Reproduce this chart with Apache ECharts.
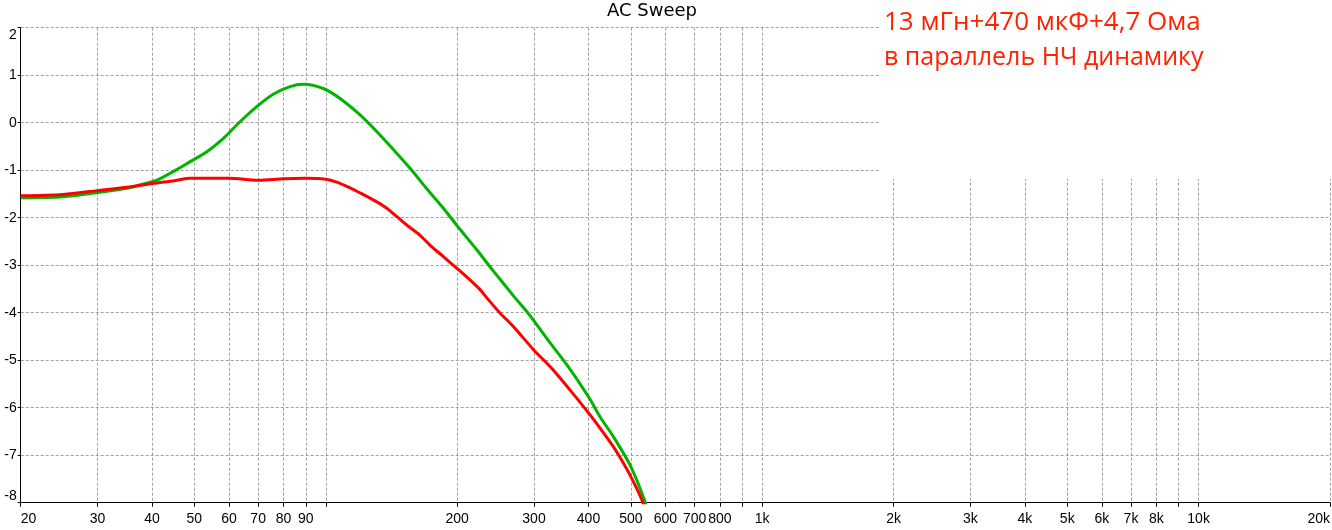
<!DOCTYPE html>
<html>
<head>
<meta charset="utf-8">
<script src="https://cdn.jsdelivr.net/npm/echarts@6/dist/echarts.min.js"></script>
<style>
    html, body { margin: 0; padding: 0; background: #fff; }
    #echarts-main { width: 1332px; height: 530px; }
</style>
</head>
<body>
<div id="echarts-main"></div>
<script>
    // АЧХ: зелёная и красная кривые (частота, Гц -> уровень, дБ)
    const greenFreq = [20, 25, 30, 35, 37.5, 41, 44.7, 48.9, 53.4, 58.3, 63.6, 69.5, 75.8, 82.8, 88.8, 98.7, 107.8, 120, 131, 143, 156, 170, 186, 200, 222, 242, 269, 289, 300, 327, 357, 400, 425, 456, 500, 539, 560]
    const greenDb = [-1.58, -1.56, -1.47, -1.38, -1.31, -1.21, -1.03, -0.82, -0.61, -0.33, 0.02, 0.34, 0.60, 0.76, 0.81, 0.72, 0.51, 0.16, -0.19, -0.57, -0.96, -1.38, -1.80, -2.17, -2.68, -3.12, -3.64, -3.98, -4.17, -4.64, -5.10, -5.77, -6.19, -6.61, -7.24, -7.98, -8.5]

    const redFreq = [20, 25, 30, 35, 40, 45, 49, 60, 70, 80, 90, 100, 106, 113, 120, 130, 138, 146, 154, 164, 173, 186, 200, 214, 226, 234, 251, 269, 300, 327, 363, 400, 425, 456, 481, 500, 530, 550]
    const redDb = [-1.54, -1.51, -1.43, -1.36, -1.28, -1.22, -1.17, -1.17, -1.21, -1.18, -1.17, -1.19, -1.25, -1.36, -1.48, -1.65, -1.80, -1.99, -2.17, -2.36, -2.57, -2.82, -3.07, -3.31, -3.52, -3.69, -4.01, -4.29, -4.79, -5.14, -5.63, -6.11, -6.43, -6.82, -7.17, -7.45, -7.94, -8.4]

    // деления и подписи оси частот
    const tickFreqs = [20, 30, 40, 50, 60, 70, 80, 90, 100, 200, 300, 400, 500, 600, 700, 800, 900, 1000, 2000, 3000, 4000, 5000, 6000, 7000, 8000, 9000, 10000, 20000]
    const labelFreqs = [20, 30, 40, 50, 60, 70, 80, 90, 200, 300, 400, 500, 600, 700, 800, 1000, 2000, 3000, 4000, 5000, 6000, 7000, 8000, 10000, 20000]

    const titleText = 'AC Sweep'
    const noteLines = ['13 мГн+470 мкФ+4,7 Ома', 'в параллель НЧ динамику']

    const lg = v => Math.log10(v)
    const labelFont = '"Liberation Sans Narrow", "Liberation Sans", sans-serif'

    let chartDom = document.getElementById('echarts-main')
    let myChart = echarts.init(chartDom)

    const option = {
        animation: false,
        backgroundColor: '#fff',
        grid: {
            left: 20.7,
            right: 2,
            top: 27.7,
            bottom: 27.3,
            containLabel: false,
            outerBoundsMode: 'none'
        },
        xAxis: {
            type: 'value',
            min: lg(20),
            max: lg(20000),
            axisLine: { show: true, onZero: false, lineStyle: { color: '#000', width: 1 } },
            axisTick: {
                show: true,
                length: 4,
                customValues: tickFreqs.map(lg),
                lineStyle: { color: '#000' }
            },
            axisLabel: {
                customValues: labelFreqs.map(lg),
                color: '#000',
                fontFamily: labelFont,
                fontSize: 14,
                margin: 9,
                alignMinLabel: 'left',
                alignMaxLabel: 'right',
                formatter: function (v) {
                    const f = Math.round(Math.pow(10, v))
                    return f >= 1000 ? (f / 1000) + 'k' : String(f)
                }
            },
            splitLine: {
                show: true,
                lineStyle: { color: '#a0a0a0', type: [3, 2], width: 1 }
            }
        },
        yAxis: {
            type: 'value',
            min: -8,
            max: 2,
            interval: 1,
            axisLine: { show: true, onZero: false, lineStyle: { color: '#000', width: 1 } },
            axisTick: { show: true, length: 3, lineStyle: { color: '#000' } },
            axisLabel: {
                color: '#000',
                fontFamily: labelFont,
                fontSize: 14,
                margin: 4,
                verticalAlignMaxLabel: 'top',
                verticalAlignMinLabel: 'bottom'
            },
            splitLine: {
                show: true,
                lineStyle: { color: '#a0a0a0', type: [3, 2], width: 1 }
            }
        },
        series: [
            {
                name: 'green',
                type: 'line',
                symbol: 'none',
                smooth: 0.3,
                clip: true,
                data: greenFreq.map((f, i) => [lg(f), greenDb[i]]),
                lineStyle: { color: '#00b400', width: 3 }
            },
            {
                name: 'red',
                type: 'line',
                symbol: 'none',
                smooth: 0.3,
                clip: true,
                data: redFreq.map((f, i) => [lg(f), redDb[i]]),
                lineStyle: { color: '#ff0000', width: 3 }
            }
        ],
        graphic: [
            {
                type: 'text',
                left: 607,
                top: 2,
                style: {
                    text: titleText,
                    fill: '#000',
                    font: '18px "DejaVu Sans", sans-serif'
                }
            },
            {
                type: 'rect',
                shape: { x: 880, y: 0, width: 452, height: 179 },
                style: { fill: '#fff' },
                z: 50
            },
            {
                type: 'text',
                x: 884,
                y: 23,
                z: 51,
                style: {
                    text: noteLines[0],
                    fill: '#ff2200',
                    font: '26px "Open Sans", sans-serif',
                    verticalAlign: 'middle'
                }
            },
            {
                type: 'text',
                x: 884,
                y: 58,
                z: 51,
                style: {
                    text: noteLines[1],
                    fill: '#ff2200',
                    font: '25px "Open Sans", sans-serif',
                    verticalAlign: 'middle'
                }
            }
        ]
    }

    option && myChart.setOption(option)
</script>
</body>
</html>
